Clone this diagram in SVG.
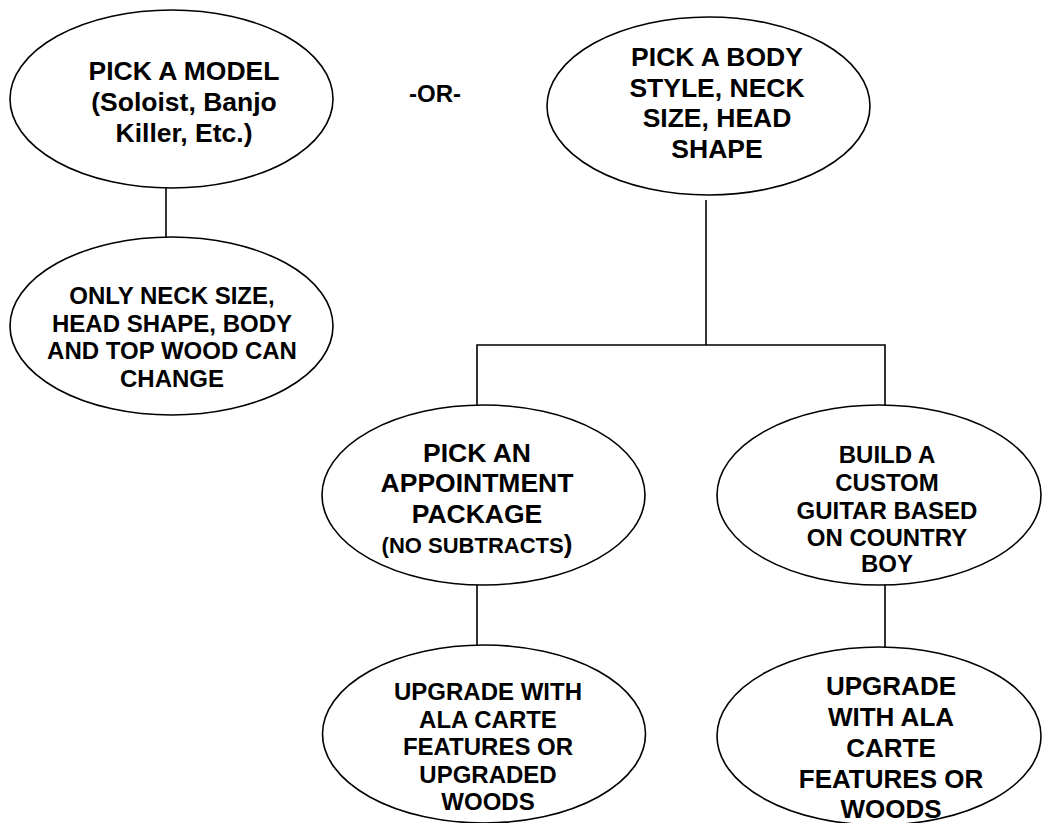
<svg xmlns="http://www.w3.org/2000/svg" width="1042" height="823" viewBox="0 0 1042 823">
<style>
.n{fill:#fff;stroke:#000;stroke-width:1.6}
.t{font-family:"Liberation Sans",Arial,sans-serif;font-weight:bold;fill:#000;text-anchor:middle}
.c{stroke:#000;stroke-width:1.6;fill:none}
</style>
<rect width="1042" height="823" fill="#fff"/>
<g id="connectors">
<line class="c" x1="166" y1="188" x2="166" y2="237"/>
<line class="c" x1="706" y1="200" x2="706" y2="345"/>
<polyline class="c" points="477,405 477,345 885,345 885,405"/>
<line class="c" x1="477" y1="585" x2="477" y2="645"/>
<line class="c" x1="885" y1="585" x2="885" y2="647"/>
</g>
<g id="model">
<ellipse class="n" cx="171.5" cy="99" rx="161.5" ry="89"/>
<text class="t" font-size="26.5" x="184" y="80">PICK A MODEL</text>
<text class="t" font-size="26.5" x="184" y="111">(Soloist, Banjo</text>
<text class="t" font-size="26.5" x="184" y="142">Killer, Etc.)</text>
</g>
<g id="or">
<text class="t" font-size="24" x="435" y="102">-OR-</text>
</g>
<g id="body">
<ellipse class="n" cx="708.5" cy="106" rx="161.5" ry="89"/>
<text class="t" font-size="26.5" x="717" y="66">PICK A BODY</text>
<text class="t" font-size="26.5" x="717" y="96.5">STYLE, NECK</text>
<text class="t" font-size="26.5" x="717" y="127">SIZE, HEAD</text>
<text class="t" font-size="26.5" x="717" y="157.5">SHAPE</text>
</g>
<g id="only">
<ellipse class="n" cx="171.5" cy="326" rx="161.5" ry="89"/>
<text class="t" font-size="24" x="172" y="304">ONLY NECK SIZE,</text>
<text class="t" font-size="24" x="172" y="332">HEAD SHAPE, BODY</text>
<text class="t" font-size="24" x="172" y="359">AND TOP WOOD CAN</text>
<text class="t" font-size="24" x="172" y="387">CHANGE</text>
</g>
<g id="appointment">
<ellipse class="n" cx="483.5" cy="495" rx="161.5" ry="90"/>
<text class="t" font-size="26.5" x="477" y="462">PICK AN</text>
<text class="t" font-size="26.5" x="477" y="492">APPOINTMENT</text>
<text class="t" font-size="26.5" x="477" y="523">PACKAGE</text>
<text class="t" font-size="22" x="477" y="553">(NO SUBTRACTS<tspan font-size="26">)</tspan></text>
</g>
<g id="custom">
<ellipse class="n" cx="879" cy="495" rx="162" ry="90"/>
<text class="t" font-size="24" x="887" y="463">BUILD A</text>
<text class="t" font-size="24" x="887" y="491">CUSTOM</text>
<text class="t" font-size="24" x="887" y="519">GUITAR BASED</text>
<text class="t" font-size="24" x="887" y="546">ON COUNTRY</text>
<text class="t" font-size="24" x="887" y="572">BOY</text>
</g>
<g id="upgrade1">
<ellipse class="n" cx="484" cy="734" rx="161.5" ry="89"/>
<text class="t" font-size="24" x="488" y="700">UPGRADE WITH</text>
<text class="t" font-size="24" x="488" y="728">ALA CARTE</text>
<text class="t" font-size="24" x="488" y="755">FEATURES OR</text>
<text class="t" font-size="24" x="488" y="783">UPGRADED</text>
<text class="t" font-size="24" x="488" y="810">WOODS</text>
</g>
<g id="upgrade2">
<ellipse class="n" cx="879" cy="736" rx="162" ry="89"/>
<text class="t" font-size="26" x="891" y="695">UPGRADE</text>
<text class="t" font-size="26" x="891" y="726">WITH ALA</text>
<text class="t" font-size="26" x="891" y="757">CARTE</text>
<text class="t" font-size="26" x="891" y="788">FEATURES OR</text>
<text class="t" font-size="26" x="891" y="818">WOODS</text>
</g>
</svg>
